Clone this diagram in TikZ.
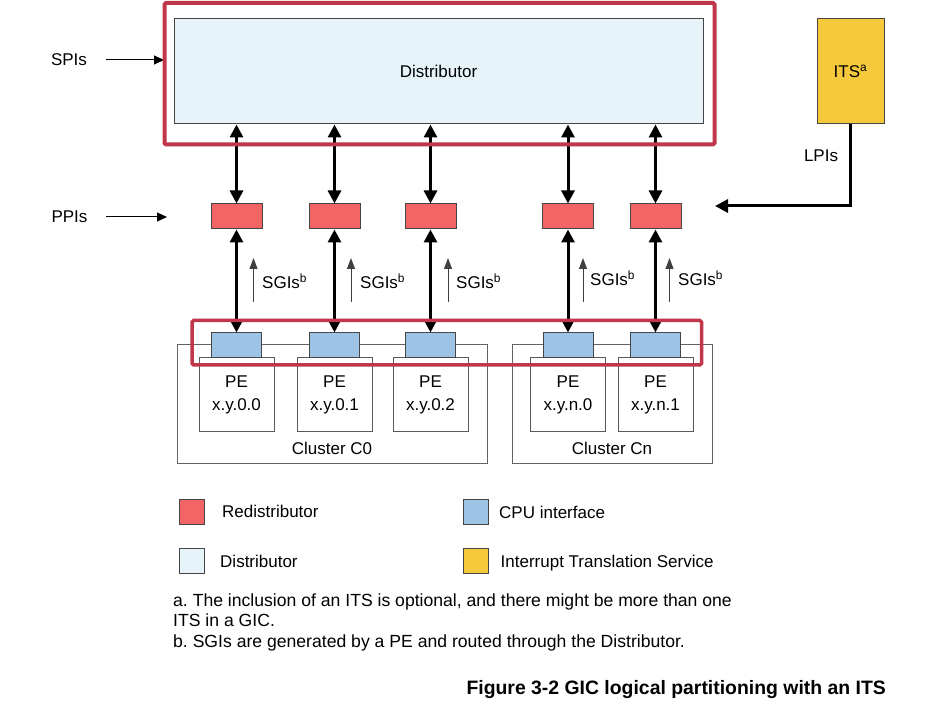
\documentclass[tikz,border=0pt]{standalone}
\usepackage{fontspec}
\setmainfont{Liberation Sans}
\usetikzlibrary{arrows.meta}
\definecolor{hlred}{RGB}{192,54,74}
\definecolor{distfill}{RGB}{230,244,249}
\definecolor{redistfill}{RGB}{242,101,100}
\definecolor{cpufill}{RGB}{157,195,230}
\definecolor{itsfill}{RGB}{245,201,59}
\definecolor{edge}{RGB}{70,70,70}
\frenchspacing
\begin{document}
\begin{tikzpicture}[x=1pt,y=-1pt,
  lbl/.style={font=\fontsize{17}{20}\selectfont, inner sep=0pt},
  note/.style={inner sep=0pt, font=\fontsize{17.6}{20}\selectfont, anchor=base west},
  box/.style={draw=edge, line width=1pt, inner sep=0pt},
  redist/.style={box, fill=redistfill, minimum width=51pt, minimum height=25pt},
  cpu/.style={box, fill=cpufill, minimum width=50pt, minimum height=25pt},
  pebox/.style={box, draw=edge!90, fill=white, minimum width=75pt, minimum height=74pt, align=center, font=\fontsize{17}{23}\selectfont},
  cluster/.style={box, draw=edge!85, minimum height=118pt},
  legbox/.style={box, minimum width=25pt, minimum height=25pt},
  hl/.style={draw=hlred, line width=4pt, rounded corners=1.5pt},
  bus/.style={line width=3pt, {Triangle[width=13pt,length=13pt]}-{Triangle[width=13pt,length=13pt]}},
  feed/.style={line width=1pt, -{Triangle[width=9pt,length=10pt]}},
  sgi/.style={draw=black!75, line width=1pt, -{Triangle[width=8pt,length=11pt]}},
]
\useasboundingbox (0,0) rectangle (940,708);
\fill[white] (0,0) rectangle (940,708);

% clusters
\node[cluster, minimum width=310pt] (cl0) at (332,404) {};
\node[cluster, minimum width=200pt] (cln) at (612,404) {};
\node[lbl, anchor=base] (cl0t) at (332,455) {Cluster C0};
\node[lbl, anchor=base] (clnt) at (612,455) {Cluster Cn};

% columns
\foreach \i/\cx/\pe in {1/236.5/x.y.0.0, 2/334.5/x.y.0.1, 3/430.5/x.y.0.2, 4/568/x.y.n.0, 5/655.5/x.y.n.1}{
  \node[pebox] (p\i) at (\cx,395) {PE\\\pe};
  \node[cpu] (c\i) at (\cx,345.5) {};
  \node[redist] (r\i) at (\cx,216.5) {};
}

% distributor and ITS
\node[box, fill=distfill, minimum width=529pt, minimum height=105pt, lbl] (dist) at (438.5,71.5) {Distributor};
\node[box, fill=itsfill, minimum width=67pt, minimum height=105pt, lbl] (its) at (850.5,71.5) {ITS\textsuperscript{a}};

% buses
\foreach \i in {1,...,5}{
  \draw[bus] (r\i.north |- dist.south) -- (r\i.north);
  \draw[bus] (r\i.south) -- (c\i.north);
}

% SGIs
\foreach \i/\ax/\tx/\ty in {1/253.5/262/289, 2/351/360/289, 3/448/456/289, 4/583/590/286, 5/669.5/678/286}{
  \node[lbl, anchor=base west] (s\i) at (\tx,\ty) {SGIs\textsuperscript{b}};
  \coordinate (sa\i) at (\ax,302);
  \coordinate (sb\i) at (\ax,258);
  \draw[sgi] (sa\i) -- (sb\i);
}

% SPIs / PPIs / LPIs
\node[lbl, anchor=base] (spis) at (69,66) {SPIs};
\node[lbl, anchor=base] (ppis) at (69.5,223) {PPIs};
\coordinate (spistart) at (106,60);
\coordinate (spitip) at (164,60);
\coordinate (ppistart) at (106,217);
\coordinate (ppitip) at (167,217);
\draw[feed] (spistart) -- (spitip);
\draw[feed] (ppistart) -- (ppitip);
\node[lbl, anchor=base] (lpis) at (821,162) {LPIs};
\coordinate (lpitip) at (715,206);
\draw[line width=3pt, -{Triangle[width=13pt,length=13pt]}] (its.south) |- (lpitip);

% highlights
\draw[hl] (164.5,3) rectangle (714.5,144.5);
\draw[hl, line width=3.5pt] (192,320.5) rectangle (701.5,365);

% legend
\node[legbox, fill=redistfill] (lg1) at (192,511.5) {};
\node[legbox, fill=distfill] (lg2) at (192,560.5) {};
\node[legbox, fill=cpufill] (lg3) at (475.5,511.5) {};
\node[legbox, fill=itsfill] (lg4) at (475.5,560.5) {};
\node[lbl, anchor=base west] (lt1) at (222,517.5) {Redistributor};
\node[lbl, anchor=base west] (lt2) at (220,567.5) {Distributor};
\node[lbl, anchor=base west] (lt3) at (499,518.5) {CPU interface};
\node[lbl, anchor=base west] (lt4) at (500.5,567.5) {Interrupt Translation Service};

% notes
\node[note] (n1) at (173,606) {a. The inclusion of an ITS is optional, and there might be more than one};
\node[note] (n2) at (173,626.5) {ITS in a GIC.};
\node[note] (n3) at (173,647) {b. SGIs are generated by a PE and routed through the Distributor.};

% caption
\node[inner sep=0pt, font=\bfseries\fontsize{19.4}{22}\selectfont, anchor=base east] (cap) at (886,694) {Figure 3-2 GIC logical partitioning with an ITS};
\end{tikzpicture}
\end{document}
